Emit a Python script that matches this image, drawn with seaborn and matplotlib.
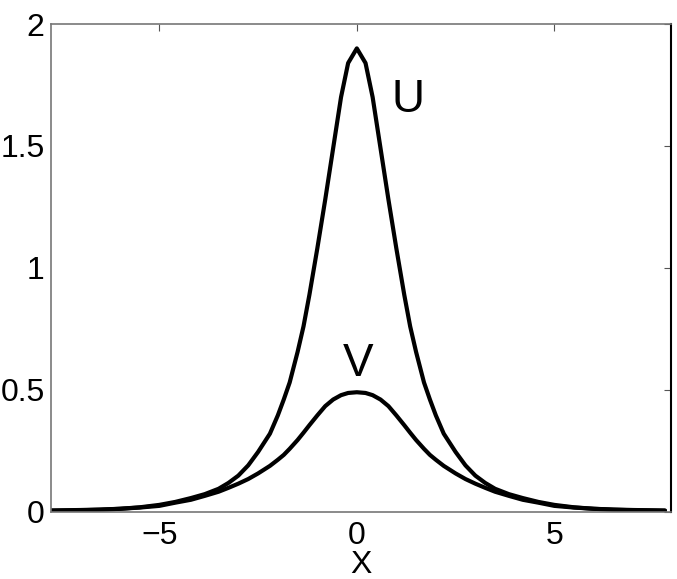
import numpy as np
import pandas as pd
import matplotlib
matplotlib.use("Agg")
import matplotlib.pyplot as plt
import seaborn as sns

# values
x_vals = [-7.8, -7.0, -6.5, -6.0, -5.5, -5.0, -4.6, -4.2, -3.85, -3.5, -3.25, -3.0,
          -2.75, -2.5, -2.2, -2.0, -1.85, -1.7, -1.5, -1.35, -1.2, -1.0, -0.8, -0.6,
          -0.4, -0.22, 0.0,
          0.22, 0.4, 0.6, 0.8, 1.0, 1.2, 1.35, 1.5, 1.7, 1.85, 2.0, 2.2, 2.5, 2.75,
          3.0, 3.25, 3.5, 3.85, 4.2, 4.6, 5.0, 5.5, 6.0, 6.5, 7.0, 7.8]
u_vals = [0.005, 0.007, 0.009, 0.012, 0.018, 0.028, 0.040, 0.056, 0.072, 0.094, 0.118, 0.148,
          0.19, 0.245, 0.32, 0.395, 0.46, 0.53, 0.655, 0.76, 0.89, 1.08, 1.28, 1.49,
          1.70, 1.84, 1.90,
          1.84, 1.70, 1.49, 1.28, 1.08, 0.89, 0.76, 0.655, 0.53, 0.46, 0.395, 0.32, 0.245, 0.19,
          0.148, 0.118, 0.094, 0.072, 0.056, 0.040, 0.028, 0.018, 0.012, 0.009, 0.007, 0.005]
v_vals = [0.004, 0.006, 0.008, 0.012, 0.017, 0.024, 0.037, 0.049, 0.065, 0.082, 0.098, 0.115,
          0.134, 0.157, 0.188, 0.213, 0.233, 0.258, 0.294, 0.324, 0.355, 0.395, 0.433, 0.46,
          0.478, 0.487, 0.49,
          0.487, 0.478, 0.46, 0.433, 0.395, 0.355, 0.324, 0.294, 0.258, 0.233, 0.213, 0.188, 0.157, 0.134,
          0.115, 0.098, 0.082, 0.065, 0.049, 0.037, 0.024, 0.017, 0.012, 0.008, 0.006, 0.004]

x_ticks = [-5, 0, 5]
y_ticks = [0, 0.5, 1, 1.5, 2]
y_ticklabels = ["0", "0.5", "1", "1.5", "2"]

df = pd.DataFrame({"x": x_vals, "U": u_vals, "V": v_vals})

sns.set_style("white")
plt.rcParams["font.family"] = ["Liberation Sans", "DejaVu Sans"]
plt.rcParams["text.color"] = "black"
plt.rcParams["axes.labelcolor"] = "black"
plt.rcParams["xtick.color"] = "black"
plt.rcParams["ytick.color"] = "black"

fig = plt.figure(figsize=(6.77, 5.79), dpi=100)
ax = fig.add_axes([0.076, 0.1162, 0.915, 0.8423])

sns.lineplot(data=df, x="x", y="U", color="black", linewidth=3, ax=ax)
sns.lineplot(data=df, x="x", y="V", color="black", linewidth=3, ax=ax)

ax.set_xlim(-7.73, 7.95)
ax.set_ylim(0, 2)
ax.set_xticks(x_ticks)
ax.set_yticks(y_ticks)
ax.set_yticklabels(y_ticklabels)
ax.tick_params(direction="in", length=5, width=0.8, color="#555555",
               labelcolor="black", labelsize=23, top=True, right=True, pad=7)
ax.tick_params(axis="y", pad=5)

for side in ["top", "left", "bottom"]:
    ax.spines[side].set_color("#777777")
    ax.spines[side].set_linewidth(1.2)
ax.spines["right"].set_color("black")
ax.spines["right"].set_linewidth(1.5)

ax.set_xlabel("X", fontsize=23, labelpad=-1)
ax.set_ylabel("")

# curve labels
ax.text(1.30, 1.69, "U", fontsize=33, ha="center", va="center")
ax.text(0.02, 0.605, "V", fontsize=33, ha="center", va="center")

fig.savefig("out.png", dpi=100)
